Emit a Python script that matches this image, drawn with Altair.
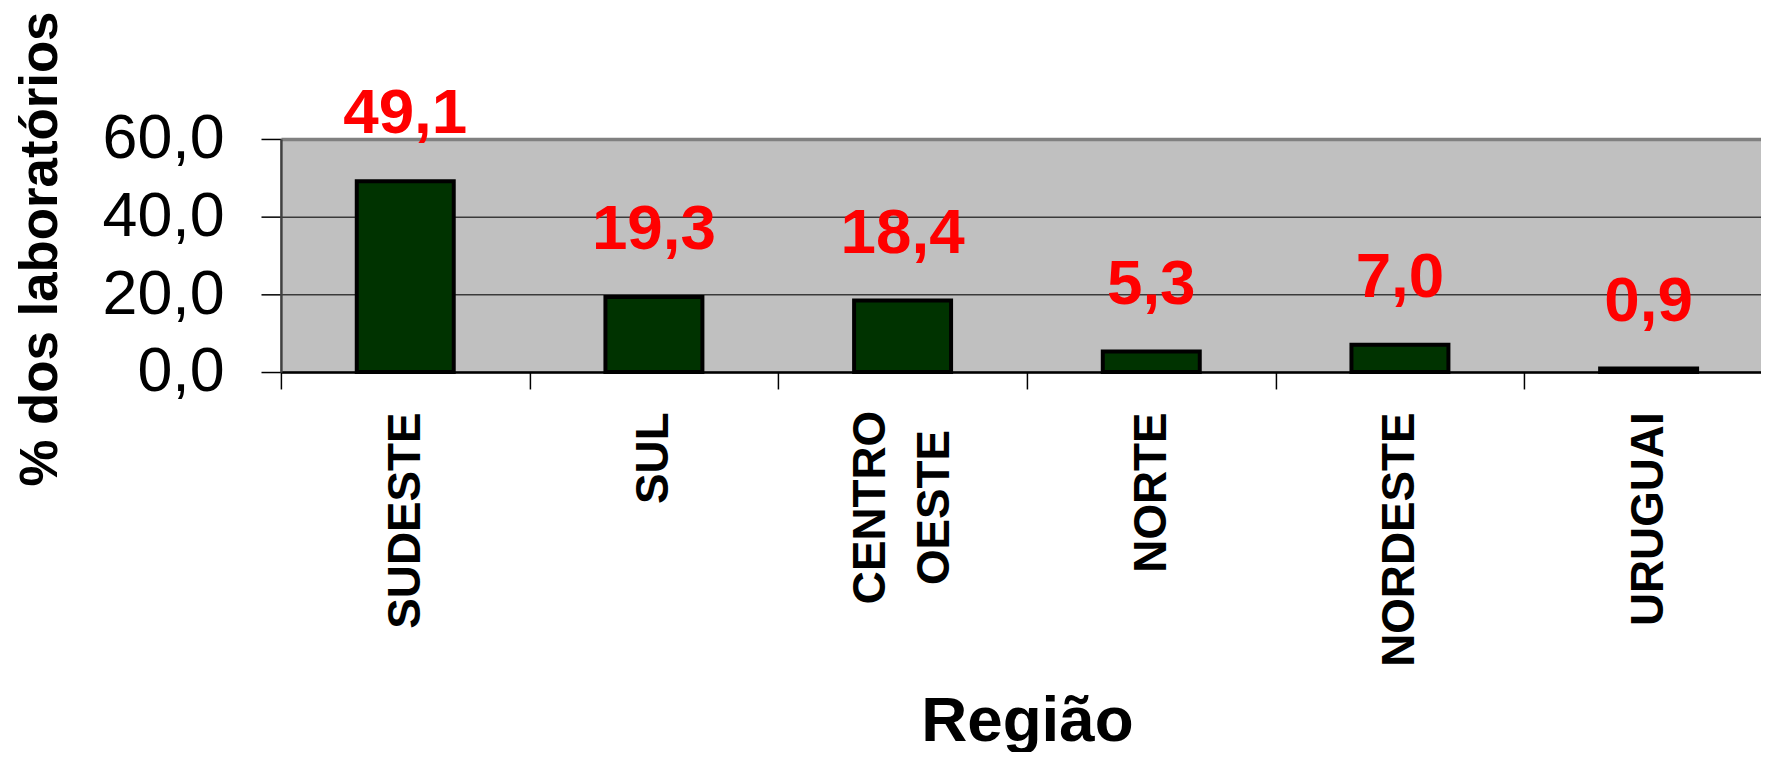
import altair as alt
import pandas as pd

regions = ["SUDESTE", "SUL", "CENTRO OESTE", "NORTE", "NORDESTE", "URUGUAI"]
values = [49.1, 19.3, 18.4, 5.3, 7.0, 0.9]
y_ticks = [0, 20, 40, 60]

df = pd.DataFrame({"regiao": regions, "pct": values})

FONT = "Liberation Sans"

x_enc = alt.X(
    "regiao:N",
    sort=regions,
    scale=alt.Scale(range=[0, 1498], paddingInner=0, paddingOuter=0),
    axis=alt.Axis(
        title="Região",
        titleFont=FONT,
        titleFontSize=64,
        titleFontWeight="bold",
        titleColor="black",
        titleY=370,
        titleBaseline="alphabetic",
        labelAngle=270,
        labelFont=FONT,
        labelFontSize=46,
        labelFontWeight="bold",
        labelColor="black",
        labelPadding=23,
        labelLimit=600,
        # two-word names are drawn by the text layer below (centred, two lines)
        labelExpr="indexof(datum.label, ' ') >= 0 ? '' : datum.label",
        labelOverlap=False,
        tickSize=17,
        tickColor="black",
        tickWidth=1.5,
        tickBand="extent",
        domainColor="black",
        domainWidth=2.5,
        grid=False,
    ),
)

y_enc = alt.Y(
    "pct:Q",
    scale=alt.Scale(domain=[0, 60], nice=False),
    axis=alt.Axis(
        values=y_ticks,
        title="% dos laboratórios",
        titleFont=FONT,
        titleFontSize=53,
        titleFontWeight="bold",
        titleColor="black",
        titleX=-225,
        titleY=110,
        titleBaseline="alphabetic",
        labelExpr="replace(format(datum.value, '.1f'), '.', ',')",
        labelFont=FONT,
        labelFontSize=63,
        labelColor="black",
        labelPadding=37,
        tickSize=20,
        tickColor="black",
        tickWidth=1.5,
        domainColor="#404040",
        domainWidth=2.5,
        grid=True,
        gridColor={"condition": {"test": "datum.value >= 60", "value": "#808080"}, "value": "#3a3a3a"},
        gridWidth={"condition": {"test": "datum.value >= 60", "value": 3.5}, "value": 1.5},
    ),
)

bars = alt.Chart(df).mark_bar(
    width=alt.RelativeBandSize(0.39),
    fill="#003300",
    stroke="black",
    strokeWidth=4,
).encode(x=x_enc, y=y_enc)

labels = alt.Chart(df).transform_calculate(
    lab="replace(format(datum.pct, '.1f'), '.', ',')"
).mark_text(
    dy=-48,
    baseline="alphabetic",
    align="center",
    font=FONT,
    fontSize=64,
    fontWeight="bold",
    color="#FF0000",
).encode(x=x_enc, y=y_enc, text="lab:N")

# two-line category label (CENTRO / OESTE), centred like the original
multi = alt.Chart(df).transform_filter(
    "indexof(datum.regiao, ' ') >= 0"
).transform_calculate(
    lines="split(datum.regiao, ' ')"
).mark_text(
    angle=270,
    align="center",
    baseline="middle",
    dx=-136,
    dy=-32,
    lineHeight=65,
    font=FONT,
    fontSize=46,
    fontWeight="bold",
    color="black",
).encode(x=x_enc, y=alt.datum(0), text="lines:N")

chart = alt.layer(bars, labels, multi).properties(
    width=1486,
    height=234,
    autosize=alt.AutoSizeParams(type="none"),
    padding={"left": 274, "top": 130, "right": 0, "bottom": 380},
    background="white",
).configure_view(fill="#C0C0C0", stroke="transparent")

chart.save("out.html", embed_options={"renderer": "svg", "actions": False})
